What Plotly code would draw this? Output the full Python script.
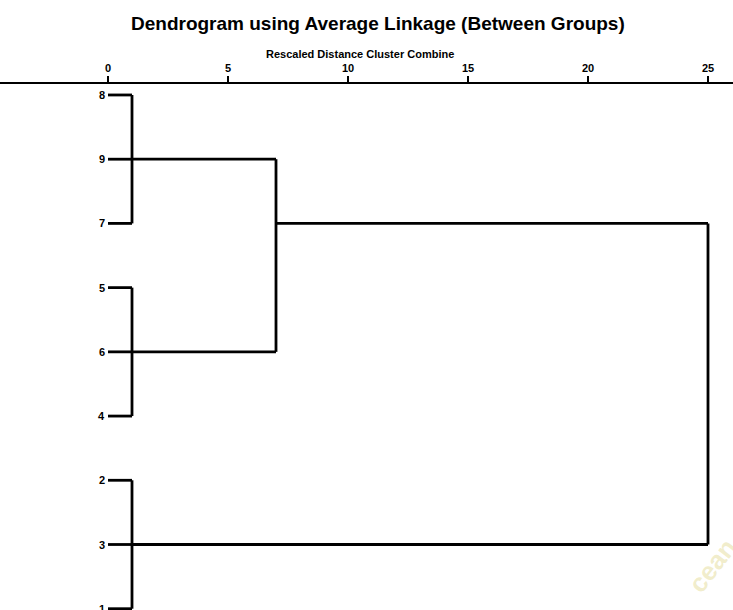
import plotly.graph_objects as go

# Leaf order (top to bottom) and merge schedule on the rescaled 0-25 distance scale
leaf_labels = ["8", "9", "7", "5", "6", "4", "2", "3", "1"]
merge_children = [[0, 1, 2], [3, 4, 5], [6, 7, 8], ["m0", "m1"], ["m3", "m2"]]
merge_heights = [1, 1, 1, 7, 25]
merge_rows = [1, 4, 7, 2, 7]
tick_values = [0, 5, 10, 15, 20, 25]

FONT = "Liberation Sans, Arial, sans-serif"
LINE = dict(color="black", width=2.8)

# node -> (row, height)
nodes = {i: (i, 0) for i in range(len(leaf_labels))}
xs, ys = [], []
for k, (children, h, r) in enumerate(zip(merge_children, merge_heights, merge_rows)):
    rows = []
    for c in children:
        crow, ch = nodes[c]
        xs += [ch, h, None]
        ys += [crow, crow, None]
        rows.append(crow)
    xs += [h, h, None]
    ys += [min(rows), max(rows), None]
    nodes[f"m{k}"] = (r, h)

fig = go.Figure()
fig.add_trace(go.Scatter(x=xs, y=ys, mode="lines", line=LINE,
                         hoverinfo="skip", showlegend=False))

annotations = []
for i, lab in enumerate(leaf_labels):
    annotations.append(dict(x=0, y=i, xref="x", yref="y", text=f"<b>{lab}</b>", showarrow=False,
                            xanchor="right", yanchor="middle", xshift=-1,
                            font=dict(family=FONT, size=11, color="black")))

annotations.append(dict(x=378 / 733, y=(610 - 23) / 526, xref="paper", yref="paper",
                        text="<b>Dendrogram using Average Linkage (Between Groups)</b>",
                        showarrow=False, xanchor="center", yanchor="middle",
                        font=dict(family=FONT, size=19, color="black")))
annotations.append(dict(x=360 / 733, y=(610 - 54) / 526, xref="paper", yref="paper",
                        text="<b>Rescaled Distance Cluster Combine</b>",
                        showarrow=False, xanchor="center", yanchor="middle",
                        font=dict(family=FONT, size=11, color="black")))
annotations.append(dict(x=712 / 733, y=(610 - 566) / 526, xref="paper", yref="paper",
                        text="<b>cean</b>", showarrow=False, textangle=-52,
                        xanchor="center", yanchor="middle",
                        font=dict(family=FONT, size=26, color="rgba(225,215,140,0.45)")))

fig.update_layout(
    width=733, height=610,
    margin=dict(l=0, r=0, t=84, b=0),
    paper_bgcolor="white", plot_bgcolor="white",
    annotations=annotations,
    xaxis=dict(side="top", range=[-108 / 24, 625 / 24], tickvals=tick_values,
               ticktext=[f"<b>{v}</b>" for v in tick_values],
               showline=True, linecolor="black", linewidth=2,
               ticks="outside", ticklen=6, tickwidth=1.5, tickcolor="black",
               showgrid=False, zeroline=False,
               tickfont=dict(family=FONT, size=11, color="black")),
    yaxis=dict(range=[8.02, -0.171], visible=False, showgrid=False, zeroline=False),
)

fig.write_html("out.html")
